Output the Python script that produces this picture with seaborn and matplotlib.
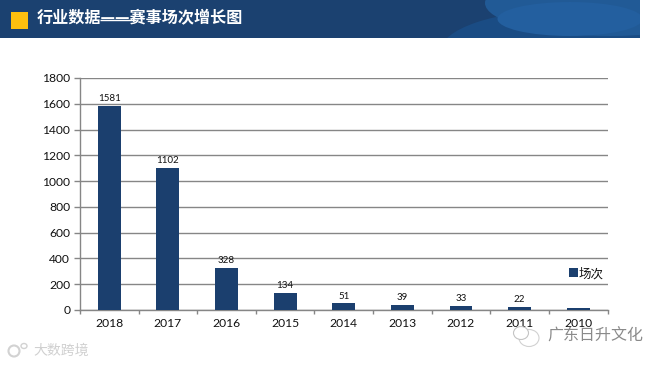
import matplotlib
matplotlib.use("Agg")
import matplotlib.pyplot as plt
from matplotlib.patches import Rectangle, Ellipse
from matplotlib.ticker import FixedLocator
import seaborn as sns
import pandas as pd

years = ["2018", "2017", "2016", "2015", "2014", "2013", "2012", "2011", "2010"]
sessions = [1581, 1102, 328, 134, 51, 39, 33, 22, 14]
shown_labels = ["1581", "1102", "328", "134", "51", "39", "33", "22", ""]
series_name = "场次"
title_text = "行业数据——赛事场次增长图"
y_ticks = [0, 200, 400, 600, 800, 1000, 1200, 1400, 1600, 1800]

sns.set_theme(style="white")
plt.rcParams["font.family"] = ["Lato", "Noto Sans CJK SC", "DejaVu Sans"]

W, H = 663, 365
fig = plt.figure(figsize=(W / 100, H / 100), dpi=100, facecolor="white")

# page decoration in pixel coordinates
bg = fig.add_axes([0, 0, 1, 1], zorder=0)
bg.set_xlim(0, W); bg.set_ylim(H, 0); bg.axis("off")
header = Rectangle((0, 0), 640, 38, color="#1B4170", lw=0)
bg.add_patch(header)
for (cx, cy, w, h, col) in [(565, 52, 250, 84, "#1A4C84"), (610, 3, 250, 66, "#215A96"),
                            (570, 19, 145, 34, "#235F9F")]:
    e = Ellipse((cx, cy), w, h, color=col, lw=0)
    bg.add_patch(e)
    e.set_clip_path(header)
bg.add_patch(Rectangle((10.5, 12), 17.5, 17, color="#FDBF0F", lw=0))
bg.text(37, 18.5, title_text, color="white", fontsize=11.6, va="center", ha="left",
        fontweight="bold", family=["Noto Sans CJK SC", "DejaVu Sans"])
bg.plot([100, 136], [19.5, 19.5], color="white", lw=1.0, solid_capstyle="butt")

# chart
ax = fig.add_axes([80 / W, (H - 310) / H, 527.5 / W, 232 / H], zorder=2)
ax.patch.set_alpha(0)
df = pd.DataFrame({"year": years, "sessions": sessions})
sns.barplot(data=df, x="year", y="sessions", color="#1B3F6E", width=0.39, saturation=1,
            label=series_name, ax=ax, zorder=3, linewidth=0, edgecolor="none")
ax.set_xlim(-0.5, len(years) - 0.5)
ax.set_ylim(0, 1800)
ax.set_yticks(y_ticks)
ax.set_xlabel(""); ax.set_ylabel("")
ax.yaxis.grid(True, color="#868686", lw=1)
ax.set_axisbelow(True)
for s in ["top", "right"]:
    ax.spines[s].set_visible(False)
for s in ["left", "bottom"]:
    ax.spines[s].set_visible(True)
    ax.spines[s].set_color("#868686")
    ax.spines[s].set_linewidth(1)
ax.tick_params(axis="y", left=True, length=4, width=1, color="#868686", labelsize=8.7,
               labelcolor="#111111", pad=3)
# ticks sit between the categories, labels stay centred
ax.xaxis.set_minor_locator(FixedLocator([i - 0.5 for i in range(len(years) + 1)]))
ax.tick_params(axis="x", which="major", bottom=False, labelsize=8.7, labelcolor="#111111", pad=0)
ax.tick_params(axis="x", which="minor", bottom=True, length=3, width=1, color="#868686")
ax.bar_label(ax.containers[0], labels=shown_labels, fontsize=7, color="#111111", padding=2)
leg = ax.legend(loc="center left", bbox_to_anchor=(0.927, 0.16), frameon=False, fontsize=9,
                handlelength=0.7, handleheight=0.7, handletextpad=0.1, borderpad=0,
                borderaxespad=0, labelcolor="#111111")

# watermarks
fg = fig.add_axes([0, 0, 1, 1], zorder=3)
fg.set_xlim(0, W); fg.set_ylim(H, 0); fg.axis("off")
fg.add_patch(Ellipse((529, 338), 20, 17, fc="white", ec="#CFCFCF", lw=0.8, alpha=0.95))
fg.add_patch(Ellipse((521, 333), 15, 13, fc="white", ec="#C4C4C4", lw=0.8))
fg.text(547, 336, "广东日升文化", color="#8A8A8A", fontsize=11.5, va="center", ha="left",
        family=["Noto Sans CJK SC", "DejaVu Sans"])
fg.add_patch(Ellipse((14, 351), 11, 11, fc="none", ec="#D2D2D2", lw=1.5))
fg.add_patch(Ellipse((24, 346), 6, 5, fc="none", ec="#D2D2D2", lw=1))
fg.text(33, 351, "大数跨境", color="#D0D0D0", fontsize=10, va="center", ha="left",
        family=["Noto Sans CJK SC", "DejaVu Sans"])

fig.savefig("out.png", dpi=100, facecolor="white")
